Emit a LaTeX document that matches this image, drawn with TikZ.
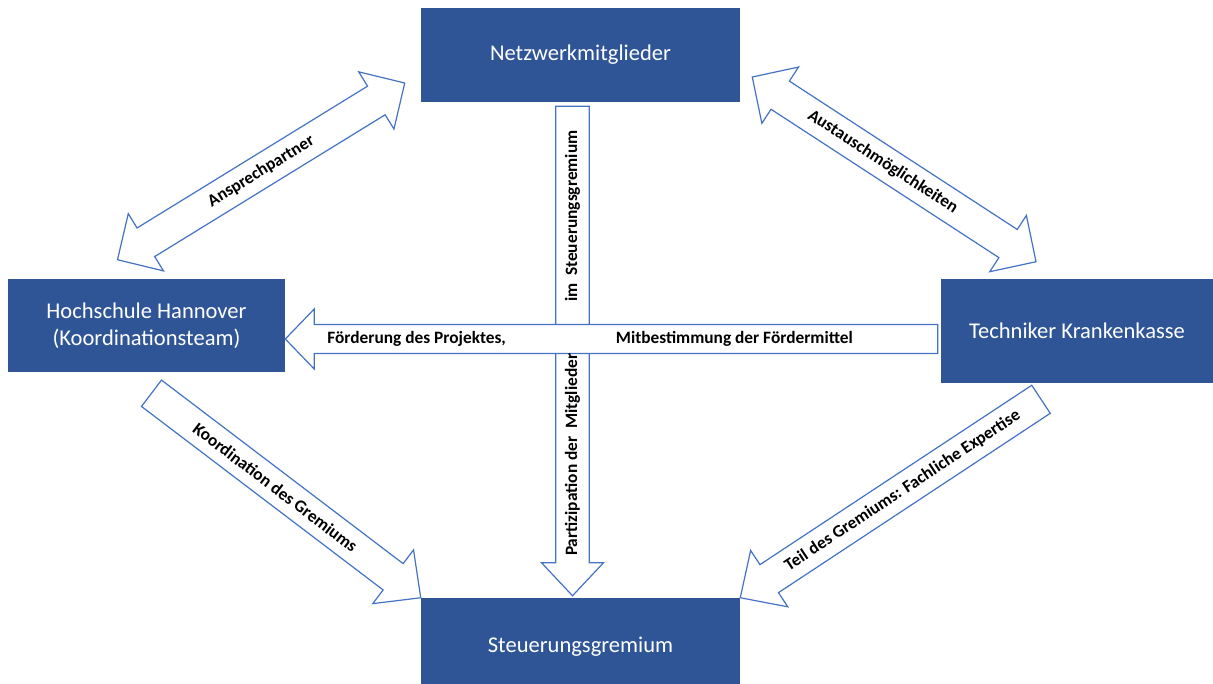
\documentclass[tikz,border=0pt]{standalone}
\usepackage{fontspec}
\setmainfont{Carlito}
\usetikzlibrary{calc}

\definecolor{kastenblau}{HTML}{2F5597}
\definecolor{randblau}{HTML}{4472C4}

\tikzset{pfeilrand/.style={draw=randblau, fill=white, line width=0.9pt, line join=miter}}

% Blockpfeil: Fuss, Spitze, halbe Schaftbreite, halbe Kopfbreite, Kopflaenge
\newcommand{\blockpfeil}[5]{%
  \coordinate (kopf) at ($(#2)!#5!(#1)$);
  \draw[pfeilrand] ($(#1)!#3!90:(#2)$) -- ($(kopf)!#3!-90:(#1)$)
    -- ($(kopf)!#4!-90:(#1)$) -- (#2) -- ($(kopf)!#4!90:(#1)$)
    -- ($(kopf)!#3!90:(#1)$) -- ($(#1)!#3!-90:(#2)$) -- cycle;
}
% Doppelpfeil: Spitze, Spitze, halbe Schaftbreite, halbe Kopfbreite, Kopflaenge
\newcommand{\doppelpfeil}[5]{%
  \coordinate (kopfa) at ($(#1)!#5!(#2)$);
  \coordinate (kopfb) at ($(#2)!#5!(#1)$);
  \draw[pfeilrand] (#1) -- ($(kopfa)!#4!90:(#2)$) -- ($(kopfa)!#3!90:(#2)$)
    -- ($(kopfb)!#3!-90:(#1)$) -- ($(kopfb)!#4!-90:(#1)$) -- (#2)
    -- ($(kopfb)!#4!90:(#1)$) -- ($(kopfb)!#3!90:(#1)$)
    -- ($(kopfa)!#3!-90:(#2)$) -- ($(kopfa)!#4!-90:(#2)$) -- cycle;
}

\begin{document}
\begin{tikzpicture}[x=0.75pt,y=-0.75pt,
    kasten/.style={fill=kastenblau, text=white, inner sep=0pt, align=center,
      font=\fontsize{16.9}{20}\selectfont},
    schrift/.style={font=\fontsize{13}{15}\selectfont\bfseries, inner sep=1pt}]
\useasboundingbox (0,0) rectangle (1213,683);
\clip (0,0) rectangle (1213,683);

% Kaesten
\node[kasten, minimum width=239.25pt, minimum height=70.5pt] (netz) at (580.5,55) {Netzwerkmitglieder};
\node[kasten, minimum width=207.75pt, minimum height=69.75pt] (hs) at (146.5,325.5) {Hochschule Hannover\\(Koordinationsteam)};
\node[kasten, minimum width=204pt, minimum height=78pt] (tk) at (1077,331) {Techniker Krankenkasse};
\node[kasten, minimum width=239.25pt, minimum height=72.75pt] (st) at (580.5,646.5) {Steuerungsgremium};

% Enden der Pfeile
\coordinate (a1) at ($(hs.north)+(-29,-19)$);
\coordinate (a2) at ($(netz.west)+(-16,28)$);
\coordinate (b1) at ($(netz.east)+(12,22)$);
\coordinate (b2) at ($(tk.north)+(-41,-17)$);
\coordinate (c1) at ($(hs.south)+(5,21)$);
\coordinate (c2) at (st.north west);
\coordinate (d1) at ($(tk.south)+(-36,16)$);
\coordinate (d2) at (st.north east);
\coordinate (e1) at ($(tk.west)+(-3,8)$);
\coordinate (e2) at ($(hs.east)+(0,13.5)$);
\coordinate (f1) at ($(netz.south)+(-8,4)$);
\coordinate (f2) at ($(st.north)+(-8,-2)$);

% Pfeile
\doppelpfeil{a1}{a2}{12.6pt}{25.2pt}{25pt}
\doppelpfeil{b1}{b2}{12.6pt}{25.2pt}{25pt}
\blockpfeil{c1}{c2}{12.4pt}{25.3pt}{26pt}
\blockpfeil{d1}{d2}{12.6pt}{25.3pt}{26pt}
\blockpfeil{f1}{f2}{12.5pt}{23.25pt}{24.75pt}
\blockpfeil{e1}{e2}{10.9pt}{22.5pt}{21.75pt}

% Beschriftungen
\path (a1) -- node[schrift, sloped, pos=0.5] {Ansprechpartner} (a2);
\path (b1) -- node[schrift, sloped, pos=0.46] {Austauschmöglichkeiten} (b2);
\path (c1) -- node[schrift, sloped, pos=0.46] {Koordination des Gremiums} (c2);
\path (d1) -- node[schrift, sloped, pos=0.46] {Teil des Gremiums: Fachliche Expertise} (d2);
\path (f1) -- node[schrift, rotate=90, pos=0.2245] {im~~Steuerungsgremium}
  node[schrift, rotate=90, pos=0.712] {Partizipation der~~Mitglieder} (f2);
\path (e1) -- node[schrift, pos=0.3116] {Mitbestimmung der Fördermittel}
  node[schrift, pos=0.7986] {Förderung des Projektes,} (e2);
\end{tikzpicture}
\end{document}
